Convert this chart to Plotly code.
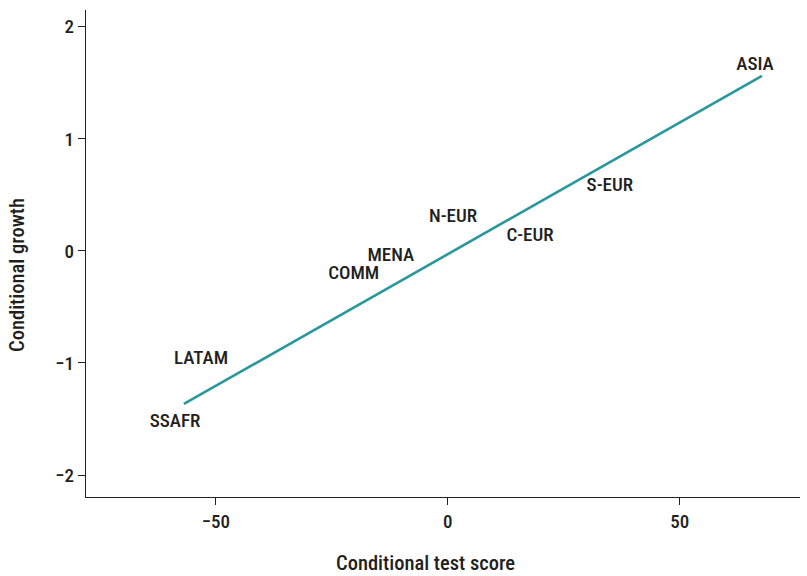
import plotly.graph_objects as go

# Data
regions = ["ASIA", "S-EUR", "C-EUR", "N-EUR", "MENA", "COMM", "LATAM", "SSAFR"]
label_x = [66.2, 34.9, 17.7, 1.1, -12.3, -20.3, -53.2, -58.8]
label_y = [1.66, 0.58, 0.134, 0.30, -0.045, -0.205, -0.97, -1.53]
fit_x = [-56.9, 67.7]
fit_y = [-1.366, 1.5625]
x_ticks = [-50, 0, 50]
y_ticks = [-2, -1, 0, 1, 2]

FONT = "Roboto Condensed, Liberation Sans Narrow, DejaVu Sans Condensed, sans-serif"
INK = "#231F20"

fig = go.Figure()
fig.add_trace(go.Scatter(x=fit_x, y=fit_y, mode="lines",
                         line=dict(color="#2A979C", width=2.6),
                         hoverinfo="skip", showlegend=False))
fig.add_trace(go.Scatter(x=label_x, y=label_y, mode="text", text=regions,
                         textposition="middle center",
                         textfont=dict(family=FONT, size=19, color=INK, weight=500),
                         hoverinfo="skip", showlegend=False))

fig.update_layout(
    width=807, height=576,
    margin=dict(l=86, r=7, t=10, b=79, autoexpand=False),
    paper_bgcolor="white", plot_bgcolor="white",
    font=dict(family=FONT, size=19, color=INK, weight=500),
    xaxis=dict(range=[-78, 75.9], tickvals=x_ticks, ticktext=["\u221250", "0", "50"],
               showgrid=False, zeroline=False, showline=True, linecolor=INK,
               linewidth=1.2, ticks="outside", ticklen=7, tickcolor=INK,
               automargin=False, tickfont=dict(size=19)),
    yaxis=dict(range=[-2.196, 2.15], tickvals=y_ticks,
               ticktext=["\u22122", "\u22121", "0", "1", "2"],
               showgrid=False, zeroline=False, showline=True, linecolor=INK,
               linewidth=1.2, ticks="outside", ticklen=7, tickcolor=INK,
               automargin=False, tickfont=dict(size=19)),
    annotations=[
        dict(text="Conditional test score", xref="paper", yref="paper",
             x=0.476, y=0, yshift=-66, showarrow=False,
             xanchor="center", yanchor="middle", font=dict(size=20.5)),
        dict(text="Conditional growth", xref="paper", yref="paper",
             x=0, y=0.456, xshift=-69, showarrow=False, textangle=-90,
             xanchor="center", yanchor="middle", font=dict(size=20.5)),
    ],
)

fig.write_html("out.html", config={"displayModeBar": False},
               post_script="document.body.style.margin='0';document.body.style.overflow='hidden';")
